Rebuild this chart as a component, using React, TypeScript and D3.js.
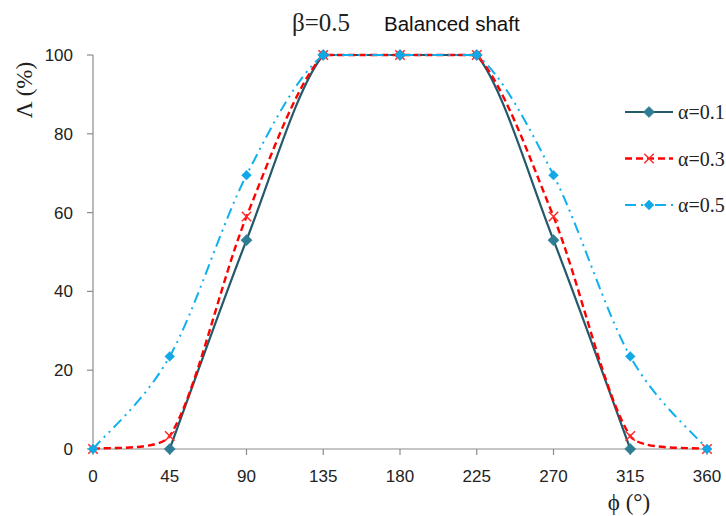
import * as d3 from 'd3';

// phi (deg) and Lambda (%) for each alpha
const phi = [0, 45, 90, 135, 180, 225, 270, 315, 360];
const alpha01 = [null, 0, 53, 100, 100, 100, 53, 0, null];
const alpha03 = [0, 3.3, 59, 100, 100, 100, 59, 3.3, 0];
const alpha05 = [0, 23.5, 69.5, 100, 100, 100, 69.5, 23.5, 0];

const xTicks = [0, 45, 90, 135, 180, 225, 270, 315, 360];
const yTicks = [0, 20, 40, 60, 80, 100];

const series = [
  { label: 'α=0.1', values: alpha01, stroke: '#23596a', marker: '#2e7d95', dash: null, width: 2.2, shape: 'diamond', size: 62 },
  { label: 'α=0.3', values: alpha03, stroke: '#ff0000', marker: '#ff2a2a', dash: '7,4', width: 2.4, shape: 'times', size: 60 },
  { label: 'α=0.5', values: alpha05, stroke: '#0fb0ee', marker: '#12a8e6', dash: '11,5,2,5,2,5', width: 2, shape: 'diamond', size: 48 },
];

const W = 726, H = 516;
const m = { left: 93, right: 19, top: 55, bottom: 67 };

// spreadsheet-style smoothing: bezier with catmull-rom tangents,
// control points kept near each segment's y range so there is little overshoot
function smoothCurve(context: any) {
  let pts: [number, number][] = [];
  const k = 1 / 6;
  const slack = 2;
  const fit = (p: number[], t: number[], sign: number, lo: number, hi: number) => {
    let s = 1;
    const cy = p[1] + sign * t[1];
    if (cy < lo && t[1] !== 0) s = Math.min(s, Math.abs((lo - p[1]) / t[1]));
    if (cy > hi && t[1] !== 0) s = Math.min(s, Math.abs((hi - p[1]) / t[1]));
    return [p[0] + sign * t[0] * s, p[1] + sign * t[1] * s];
  };
  return {
    areaStart() {},
    areaEnd() {},
    lineStart() { pts = []; },
    point(x: number, y: number) { pts.push([+x, +y]); },
    lineEnd() {
      const n = pts.length;
      if (!n) return;
      context.moveTo(pts[0][0], pts[0][1]);
      if (n === 1) return;
      const tan = pts.map((p, i) => {
        const a = pts[Math.max(0, i - 1)], b = pts[Math.min(n - 1, i + 1)];
        return [(b[0] - a[0]) * k, (b[1] - a[1]) * k];
      });
      for (let i = 0; i < n - 1; i++) {
        const p0 = pts[i], p1 = pts[i + 1];
        const d = p0[1] === p1[1] ? 0 : slack;
        const lo = Math.min(p0[1], p1[1]) - d, hi = Math.max(p0[1], p1[1]) + d;
        const c1 = fit(p0, tan[i], 1, lo, hi);
        const c2 = fit(p1, tan[i + 1], -1, lo, hi);
        context.bezierCurveTo(c1[0], c1[1], c2[0], c2[1], p1[0], p1[1]);
      }
    },
  };
}

export default function App() {
  const x = d3.scaleLinear().domain([0, 360]).range([m.left, W - m.right]);
  const y = d3.scaleLinear().domain([0, 100]).range([H - m.bottom, m.top]);

  const line = d3.line<[number, number | null]>()
    .defined(d => d[1] != null)
    .x(d => x(d[0]))
    .y(d => y(d[1] as number))
    .curve(smoothCurve as any);

  const markerPath = (shape: string, size: number) =>
    shape === 'times'
      ? d3.symbol(d3.symbolTimes, size)()
      : d3.symbol(d3.symbolSquare, size)();

  const sans = '"Liberation Sans", Arial, sans-serif';
  const serif = '"Liberation Serif", "Times New Roman", serif';

  return (
    <svg width={W} height={H} style={{ position: 'absolute', left: 0, top: 0, background: '#fff' }}>
      {/* title */}
      <text x={292} y={31} fontFamily={serif} fontSize={25} fill="#222">β=0.5</text>
      <text x={384} y={31} fontFamily={sans} fontSize={20.5} fill="#111">Balanced shaft</text>

      {/* y axis */}
      <line x1={x(0)} x2={x(0)} y1={y(0)} y2={y(100)} stroke="#8c8c8c" strokeWidth={1.2} />
      {yTicks.map(t => (
        <g key={t}>
          <line x1={x(0) - 6} x2={x(0)} y1={y(t)} y2={y(t)} stroke="#8c8c8c" strokeWidth={1.2} />
          <text x={73} y={y(t) + 6} textAnchor="end" fontFamily={sans} fontSize={17} fill="#222">{t}</text>
        </g>
      ))}

      {/* x axis */}
      <line x1={x(0)} x2={x(360) + 5} y1={y(0)} y2={y(0)} stroke="#8c8c8c" strokeWidth={1.2} />
      {xTicks.map(t => (
        <g key={t}>
          <line x1={x(t)} x2={x(t)} y1={y(0)} y2={y(0) + 6} stroke="#8c8c8c" strokeWidth={1.2} />
          <text x={x(t)} y={482} textAnchor="middle" fontFamily={sans} fontSize={17} fill="#222">{t}</text>
        </g>
      ))}

      {/* axis titles */}
      <text transform="translate(32,90) rotate(-90)" textAnchor="middle" fontFamily={serif} fontSize={23} fill="#222">Λ (%)</text>
      <text x={629} y={510} textAnchor="middle" fontFamily={serif} fontSize={23} fill="#222">ϕ (°)</text>

      {/* series */}
      {series.map(s => {
        const pts = phi.map((p, i) => [p, s.values[i]] as [number, number | null]);
        return (
          <g key={s.label}>
            <path d={line(pts) || ''} fill="none" stroke={s.stroke} strokeWidth={s.width}
              strokeDasharray={s.dash || undefined} />
            {pts.filter(d => d[1] != null).map(d => (
              <path key={d[0]} d={markerPath(s.shape, s.size) || ''}
                transform={`translate(${x(d[0])},${y(d[1] as number)})${s.shape === 'diamond' ? ' rotate(45)' : ''}`}
                fill={s.shape === 'times' ? 'none' : s.marker}
                stroke={s.marker} strokeWidth={s.shape === 'times' ? 1.5 : 0.5} />
            ))}
          </g>
        );
      })}

      {/* legend */}
      {series.map((s, i) => {
        const ly = 112 + i * 46.5;
        return (
          <g key={s.label}>
            <line x1={625} x2={673} y1={ly} y2={ly} stroke={s.stroke} strokeWidth={s.width}
              strokeDasharray={s.dash || undefined} />
            <path d={markerPath(s.shape, s.size) || ''}
              transform={`translate(649,${ly})${s.shape === 'diamond' ? ' rotate(45)' : ''}`}
              fill={s.shape === 'times' ? 'none' : s.marker}
              stroke={s.marker} strokeWidth={s.shape === 'times' ? 1.5 : 0.5} />
            <text x={678} y={ly + 7} fontFamily={serif} fontSize={20} fill="#222">{s.label}</text>
          </g>
        );
      })}
    </svg>
  );
}
